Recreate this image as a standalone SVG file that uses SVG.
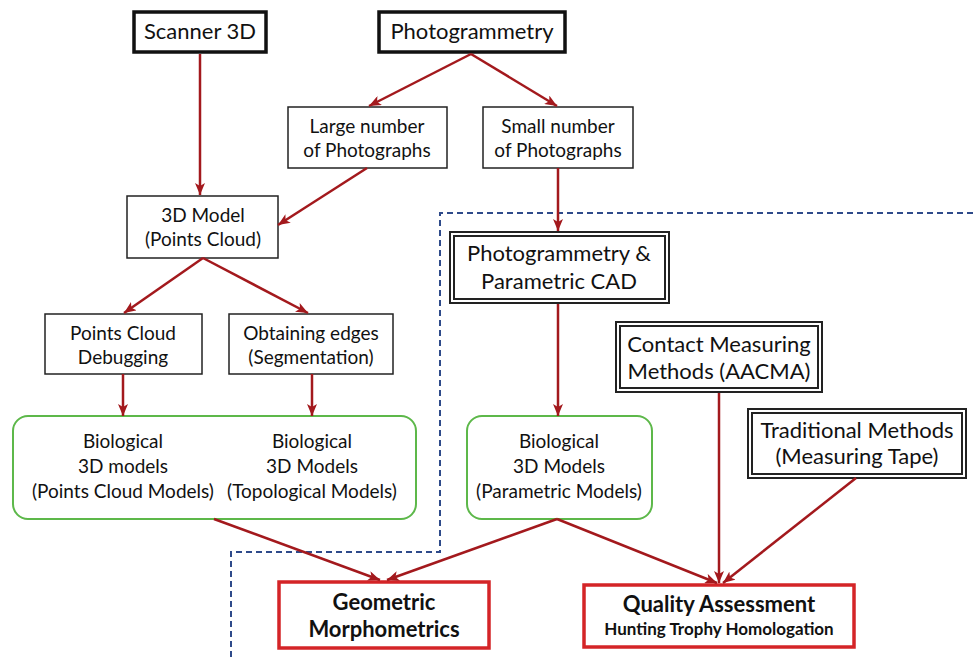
<svg xmlns="http://www.w3.org/2000/svg" width="973" height="657" viewBox="0 0 973 657">
<defs>
<marker id="ah" viewBox="0 0 12 10" refX="12" refY="5" markerWidth="12" markerHeight="10" markerUnits="userSpaceOnUse" orient="auto">
<path d="M0,0 L12,5 L0,10 L3,5 z" fill="#A3191D"/>
</marker>
<style>
text{font-family:Lato,"Open Sans","Liberation Sans",sans-serif;fill:#111;text-anchor:middle}
.t22{font-size:22px}
.t19{font-size:19px}
.b{font-weight:bold}
.thick{fill:#fff;stroke:#111;stroke-width:3.5}
.thin{fill:#fff;stroke:#222;stroke-width:1.5}
.dblo{fill:#fff;stroke:#222;stroke-width:6}
.dbli{fill:none;stroke:#fff;stroke-width:2}
.green{fill:#fff;stroke:#5DB84A;stroke-width:2}
.red{fill:#fff;stroke:#D42427;stroke-width:3.5}
.conn path{fill:none;stroke:#A3191D;stroke-width:2.5;marker-end:url(#ah)}
.dash{fill:none;stroke:#2E4A8A;stroke-width:2;stroke-dasharray:6 4}
</style>
</defs>
<rect width="973" height="657" fill="#fff"/>
<path class="dash" d="M973,213 H440 V552 H231 V657"/>

<g id="scanner"><rect class="thick" x="134" y="12" width="132" height="40"/><text class="t22" x="200" y="39">Scanner 3D</text></g>
<g id="photogrammetry"><rect class="thick" x="379" y="12" width="186" height="40"/><text class="t22" x="472" y="39">Photogrammetry</text></g>
<g id="large"><rect class="thin" x="288" y="107" width="159" height="61"/><text class="t19" x="367" y="133">Large number</text><text class="t19" x="367" y="157">of Photographs</text></g>
<g id="small"><rect class="thin" x="483" y="107" width="150" height="61"/><text class="t19" x="558" y="133">Small number</text><text class="t19" x="558" y="157">of Photographs</text></g>
<g id="model3d"><rect class="thin" x="127" y="196" width="151" height="62"/><text class="t19" x="203" y="222">3D Model</text><text class="t19" x="203" y="246">(Points Cloud)</text></g>
<g id="pcd"><rect class="thin" x="45" y="314" width="157" height="60"/><text class="t19" x="123" y="340">Points Cloud</text><text class="t19" x="123" y="364">Debugging</text></g>
<g id="oe"><rect class="thin" x="229" y="314" width="164" height="60"/><text class="t19" x="311" y="340">Obtaining edges</text><text class="t19" x="311" y="364">(Segmentation)</text></g>
<g id="pcad"><rect class="dblo" x="452" y="234" width="215" height="67"/><rect class="dbli" x="452" y="234" width="215" height="67"/><text class="t22" x="559" y="261">Photogrammetry &amp;</text><text class="t22" x="559" y="289">Parametric CAD</text></g>
<g id="contact"><rect class="dblo" x="618" y="324" width="202" height="66"/><rect class="dbli" x="618" y="324" width="202" height="66"/><text class="t22" x="719" y="352">Contact Measuring</text><text class="t22" x="719" y="379">Methods (AACMA)</text></g>
<g id="traditional"><rect class="dblo" x="750" y="411" width="214" height="65"/><rect class="dbli" x="750" y="411" width="214" height="65"/><text class="t22" x="857" y="438">Traditional Methods</text><text class="t22" x="857" y="464">(Measuring Tape)</text></g>
<g id="bio-left"><rect class="green" x="13" y="416" width="403" height="103" rx="15"/>
<text class="t19" x="123" y="448">Biological</text><text class="t19" x="123" y="473">3D models</text><text class="t19" x="123" y="498">(Points Cloud Models)</text>
<text class="t19" x="312" y="448">Biological</text><text class="t19" x="312" y="473">3D Models</text><text class="t19" x="312" y="498">(Topological Models)</text></g>
<g id="bio-mid"><rect class="green" x="467" y="416" width="185" height="103" rx="15"/>
<text class="t19" x="559" y="448">Biological</text><text class="t19" x="559" y="473">3D Models</text><text class="t19" x="559" y="498">(Parametric Models)</text></g>
<g id="geometric"><rect class="red" x="279" y="582" width="210" height="66"/><text class="t22 b" x="384" y="610">Geometric</text><text class="t22 b" x="384" y="637">Morphometrics</text></g>
<g id="quality"><rect class="red" x="584" y="585" width="270" height="62"/><text class="t22 b" x="719" y="612">Quality Assessment</text><text class="b" style="font-size:17px" x="719" y="635">Hunting Trophy Homologation</text></g>

<g id="connectors" class="conn">
<path d="M200,54 L200,195"/>
<path d="M471,54 L369,106"/>
<path d="M471,54 L557,106"/>
<path d="M367,168 L278,225"/>
<path d="M558,168 L558,231"/>
<path d="M203,258 L124,313"/>
<path d="M203,258 L308,313"/>
<path d="M123,374 L123,416"/>
<path d="M312,374 L312,416"/>
<path d="M558,304 L558,416"/>
<path d="M214,519 L380,580"/>
<path d="M557,519 L387,580"/>
<path d="M557,519 L717,583"/>
<path d="M719,393 L719,583"/>
<path d="M856,478 L723,583"/>
</g>
</svg>
